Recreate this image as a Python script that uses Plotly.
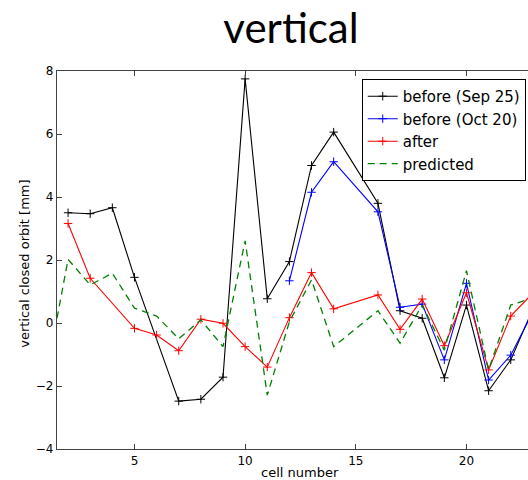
import plotly.graph_objects as go

# Vertical closed orbit per cell (mm)
sep25_cells = [2, 3, 4, 5, 7, 8, 9, 10, 11, 12, 13, 14, 16, 17, 18, 19, 20, 21, 22, 23]
sep25_orbit = [3.50, 3.47, 3.66, 1.45, -2.48, -2.42, -1.72, 7.75, 0.77, 1.95,
               5.00, 6.06, 3.80, 0.39, 0.15, -1.74, 0.57, -2.15, -1.17, 0.45]

oct20_cells = [12, 13, 14, 16, 17, 18, 19, 20, 21, 22, 23]
oct20_orbit = [1.34, 4.15, 5.12, 3.53, 0.50, 0.60, -1.17, 1.26, -1.81, -1.02, 0.35]

after_cells = [2, 3, 5, 6, 7, 8, 9, 10, 11, 12, 13, 14, 16, 17, 18, 19, 20, 21, 22, 23]
after_orbit = [3.16, 1.42, -0.17, -0.38, -0.88, 0.12, -0.01, -0.75, -1.40, 0.17,
               1.60, 0.45, 0.89, -0.20, 0.76, -0.72, 0.96, -1.49, 0.22, 0.95]

pred_cells = [1, 2, 3, 4, 5, 6, 7, 8, 9, 10, 11, 12, 13, 14, 16, 17, 18, 19, 20, 21, 22, 23]
pred_orbit = [-1.72, 2.02, 1.21, 1.58, 0.47, 0.22, -0.50, 0.10, -0.75, 2.61, -2.29,
              0.04, 1.37, -0.75, 0.39, -0.64, 0.57, -0.86, 1.66, -1.49, 0.57, 0.80]

x_ticks = [5, 10, 15, 20]
y_ticks = [-4, -2, 0, 2, 4, 6, 8]

fig = go.Figure()


def measured(name, xs, ys, color):
    fig.add_trace(go.Scatter(
        x=xs, y=ys, name=name, mode="lines+markers",
        line=dict(color=color, width=1.1),
        marker=dict(symbol="cross-thin", size=6, color=color,
                    line=dict(color=color, width=1)),
    ))


measured("before (Sep 25)", sep25_cells, sep25_orbit, "#000000")
measured("before (Oct 20)", oct20_cells, oct20_orbit, "#0000ff")
measured("after", after_cells, after_orbit, "#ff0000")
fig.add_trace(go.Scatter(
    x=pred_cells, y=pred_orbit, name="predicted", mode="lines",
    line=dict(color="#008000", width=1.3, dash="7px,5px"),
))

axis_font = dict(family="DejaVu Sans", size=12, color="#000000")

fig.update_layout(
    width=528, height=480,
    margin=dict(l=57, r=0, t=71, b=31),
    paper_bgcolor="white", plot_bgcolor="white",
    showlegend=True,
    legend=dict(
        x=0.647, y=0.979, xanchor="left", yanchor="top",
        bgcolor="white", bordercolor="#000000", borderwidth=1,
        font=dict(family="DejaVu Sans", size=15, color="#000000"),
        tracegroupgap=0,
    ),
    title=dict(
        text="vertical", x=291 / 528, xref="container", xanchor="center",
        y=1 - 28 / 480, yref="container", yanchor="middle",
        font=dict(family="Lato", size=42, color="#000000"),
    ),
    xaxis=dict(
        range=[1.5, 22.78], tickvals=x_ticks, ticks="inside", ticklen=5,
        tickcolor="#444444", showline=True, linecolor="#444444", linewidth=1.2,
        mirror="ticks", showgrid=False, zeroline=False, tickfont=axis_font,
    ),
    yaxis=dict(
        range=[-4, 8], tickvals=y_ticks, ticks="inside", ticklen=5,
        tickcolor="#444444", showline=True, linecolor="#444444", linewidth=1.2,
        showgrid=False, zeroline=False, tickfont=axis_font,
        tickformat="d",
    ),
    annotations=[
        dict(text="cell number", xref="paper", yref="paper",
             x=(300 - 57) / 471, y=-(472 - 449) / 378,
             xanchor="center", yanchor="middle", showarrow=False,
             font=dict(family="DejaVu Sans", size=13, color="#000000")),
        dict(text="vertical closed orbit [mm]", xref="paper", yref="paper",
             x=(25 - 57) / 471, y=0.49, textangle=-90,
             xanchor="center", yanchor="middle", showarrow=False,
             font=dict(family="DejaVu Sans", size=13, color="#000000")),
    ],
)

fig.write_html("out.html")
